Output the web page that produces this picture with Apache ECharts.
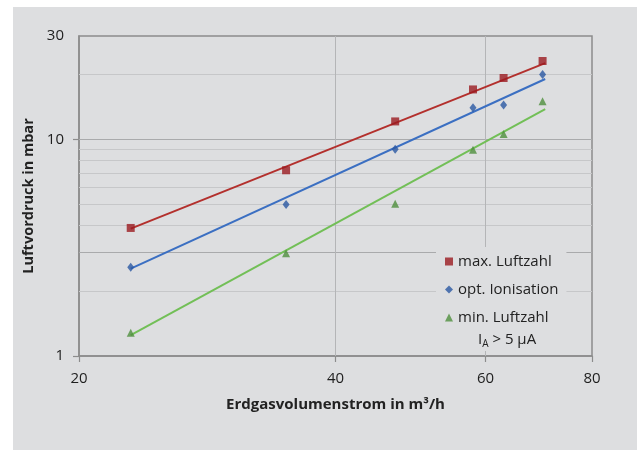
<!DOCTYPE html>
<html>
<head>
<meta charset="utf-8">
<script src="https://cdn.jsdelivr.net/npm/echarts@6/dist/echarts.min.js"></script>
<style>
  html, body { margin: 0; padding: 0; background: #ffffff; }
  #wrap { position: relative; width: 637px; height: 450px; background: #ffffff; }
  #bg { position: absolute; left: 13px; top: 7px; width: 624px; height: 443px; background: #dddee0; }
  #chart { position: absolute; left: 0; top: 0; width: 637px; height: 450px; }
</style>
</head>
<body>
<div id="wrap"><div id="bg"></div><div id="chart"></div></div>
<script>
// Data
const xValues = [23, 35, 47, 58, 63, 70];
const maxLuft = [3.9, 7.2, 12.1, 17.0, 19.2, 23.0];
const optIon  = [2.57, 5.0, 9.0, 14.0, 14.4, 19.9];
const minLuft = [1.28, 2.98, 5.05, 8.95, 10.6, 15.0];

const trendX   = [23, 70.5];
const maxTrend = [3.87, 22.5];
const optTrend = [2.53, 19.0];
const minTrend = [1.25, 13.8];

const xTicks = [20, 40, 60, 80];
const yLabels = [1, 10, 30];
const yTicks = [1, 10];
const yGridLight = [2, 4, 5, 6, 7, 8, 9, 20];
const yGridDark = [3, 10];
const xGrid = [40, 60];

const names = ['max. Luftzahl', 'opt. Ionisation', 'min. Luftzahl'];
const markerColors = ['#9b1a20', '#2a57a3', '#4f8f3d'];
const lineColors = ['#b3302d', '#3b6fc2', '#72bf57'];

const font = 'Open Sans';
const pairs = (xs, ys) => xs.map((x, i) => [x, ys[i]]);

const chart = echarts.init(document.getElementById('chart'), null, { renderer: 'canvas' });

const gridLines = [];
yGridLight.forEach(v => gridLines.push({ yAxis: v, lineStyle: { color: '#c6c7c9', width: 1, type: 'solid' } }));
yGridDark.forEach(v => gridLines.push({ yAxis: v, lineStyle: { color: '#a9aaac', width: 1.2, type: 'solid' } }));
xGrid.forEach(v => gridLines.push({ xAxis: v, lineStyle: { color: '#b4b5b7', width: 1, type: 'solid' } }));

const option = {
  backgroundColor: 'transparent',
  animation: false,
  grid: {
    left: 79, top: 36, right: 45, bottom: 94,
    show: true, borderColor: '#8c8c8c', borderWidth: 1.5, backgroundColor: 'transparent'
  },
  xAxis: {
    type: 'log', logBase: 10, min: 20, max: 80,
    name: 'Erdgasvolumenstrom in m³/h', nameLocation: 'middle', nameGap: 41,
    nameTextStyle: { fontFamily: font, fontSize: 15, fontWeight: 'bold', color: '#222' },
    axisLine: { show: true, lineStyle: { color: '#8c8c8c', width: 1.5 } },
    axisTick: { show: true, inside: false, length: 6, customValues: xTicks, lineStyle: { color: '#8c8c8c', width: 1.2 } },
    axisLabel: { show: true, customValues: xTicks, margin: 15, fontFamily: font, fontSize: 15, color: '#1e1e1e' },
    splitLine: { show: false },
    minorTick: { show: false }, minorSplitLine: { show: false }
  },
  yAxis: {
    type: 'log', logBase: 10, min: 1, max: 30,
    name: 'Luftvordruck in mbar', nameLocation: 'middle', nameGap: 40,
    nameTextStyle: { fontFamily: font, fontSize: 14.5, fontWeight: 'bold', color: '#222' },
    axisLine: { show: true, lineStyle: { color: '#8c8c8c', width: 1.5 } },
    axisTick: { show: true, length: 6, customValues: yTicks, lineStyle: { color: '#8c8c8c', width: 1.2 } },
    axisLabel: { show: true, customValues: yLabels, margin: 15, fontFamily: font, fontSize: 15, color: '#1e1e1e' },
    splitLine: { show: false },
    minorTick: { show: false }, minorSplitLine: { show: false }
  },
  legend: {
    orient: 'vertical', left: 436, top: 247, z: 50, zlevel: 0,
    padding: [7, 8, 26, 9],
    backgroundColor: '#dddee0',
    itemWidth: 8, itemHeight: 8, itemGap: 13,
    textStyle: { fontFamily: font, fontSize: 15, color: '#222', lineHeight: 15 },
    data: [
      { name: names[0], icon: 'rect' },
      { name: names[1], icon: 'diamond' },
      { name: names[2], icon: 'triangle' }
    ]
  },
  graphic: [{
    type: 'text', left: 478, top: 332, z: 100,
    style: {
      text: '{i|I}{s|A}{i| > 5 µA}',
      rich: {
        i: { fontFamily: font, fontSize: 15, fill: '#222', color: '#222' },
        s: { fontFamily: font, fontSize: 10, fill: '#222', color: '#222', padding: [9, 0, 0, 0] }
      }
    }
  }],
  series: [
    {
      type: 'line', name: 'grid', silent: true, data: [], symbol: 'none', z: 1,
      markLine: { silent: true, symbol: 'none', z: 1, label: { show: false }, animation: false, data: gridLines }
    },
    { type: 'line', name: 'trend-max', data: pairs(trendX, maxTrend), symbol: 'none', lineStyle: { color: lineColors[0], width: 2 }, z: 3, silent: true },
    { type: 'line', name: 'trend-opt', data: pairs(trendX, optTrend), symbol: 'none', lineStyle: { color: lineColors[1], width: 2 }, z: 3, silent: true },
    { type: 'line', name: 'trend-min', data: pairs(trendX, minTrend), symbol: 'none', lineStyle: { color: lineColors[2], width: 2 }, z: 3, silent: true },
    { type: 'scatter', name: names[0], data: pairs(xValues, maxLuft), symbol: 'rect', symbolSize: 8, itemStyle: { color: markerColors[0] }, z: 5 },
    { type: 'scatter', name: names[1], data: pairs(xValues, optIon), symbol: 'diamond', symbolSize: [7, 9], itemStyle: { color: markerColors[1] }, z: 5 },
    { type: 'scatter', name: names[2], data: pairs(xValues, minLuft), symbol: 'triangle', symbolSize: [8, 8], itemStyle: { color: markerColors[2] }, z: 5 }
  ]
};
chart.setOption(option);
</script>
</body>
</html>
